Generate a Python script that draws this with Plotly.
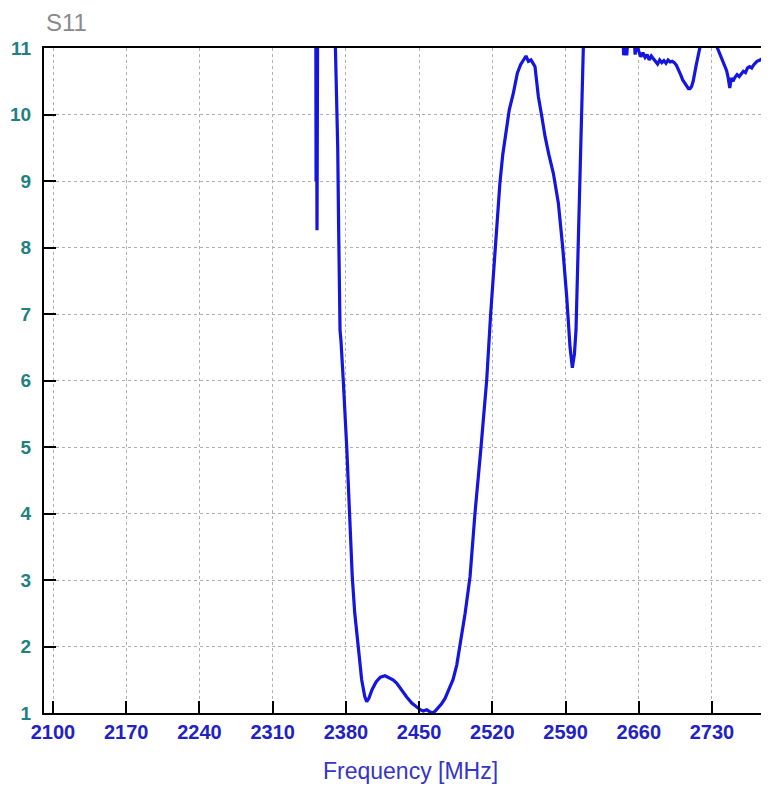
import plotly.graph_objects as go

# ---- data ----
freq_mhz = [
    2091, 2200, 2300, 2350, 2351.0, 2351.5, 2352.0, 2352.4, 2352.8, 2353.5, 2360,
    2369.2, 2370.0, 2370.6, 2372.2, 2373.1, 2373.7, 2374.4, 2375.3, 2376.2, 2377.5,
    2380.8, 2383.3, 2386.1, 2388.5, 2391.9, 2395.1, 2398, 2399.9, 2402, 2405,
    2409, 2413, 2417.4, 2421, 2425, 2428.5, 2433, 2438.1, 2443, 2447.7,
    2451, 2454, 2457.3, 2460, 2463.3, 2466, 2469, 2471.5, 2474.8, 2478.5,
    2482.4, 2486, 2489.1, 2494, 2498.7, 2503.4, 2509.2, 2514.6, 2518.4, 2522.6,
    2524.8, 2527.3, 2530, 2533.7, 2536.2, 2540.1, 2543.9, 2547, 2550, 2552.2,
    2554.5, 2557, 2560.8, 2564, 2567, 2570.4, 2574, 2578.3, 2583.1, 2587.3,
    2591.1, 2594.3, 2596.5, 2598.5, 2600, 2602.2, 2603.8, 2605.4, 2606, 2607,
    2608, 2620, 2640, 2644.5, 2645.5, 2647, 2648.5, 2649.5, 2651, 2655.5,
    2656.5, 2658, 2660, 2662, 2664, 2666, 2668, 2670, 2672, 2674,
    2676, 2678, 2680, 2682, 2684, 2686, 2688, 2690, 2692, 2694,
    2696, 2698, 2700, 2702, 2704, 2706, 2707.5, 2709, 2710.5, 2712,
    2713.5, 2715, 2717, 2719, 2722, 2726, 2730, 2734, 2736.5, 2738,
    2740, 2742, 2744, 2745.5, 2747, 2748.5, 2750, 2752, 2754, 2756,
    2758, 2760, 2762, 2764, 2766, 2768, 2770, 2773, 2776, 2779,
    2782, 2785, 2790,
]
vswr = [
    15, 15, 15, 15, 14, 9.0, 10.5, 8.26, 9.2, 14, 15,
    14, 11.0, 10.56, 9.5, 8.26, 7.36, 6.76, 6.6, 6.4, 6.0,
    5.0, 4.0, 3.05, 2.5, 2.0, 1.5, 1.25, 1.17, 1.22, 1.35,
    1.47, 1.54, 1.56, 1.53, 1.5, 1.45, 1.35, 1.24, 1.15, 1.09,
    1.05, 1.03, 1.05, 1.02, 1.0, 1.04, 1.09, 1.14, 1.22, 1.35,
    1.5, 1.72, 2.0, 2.5, 3.05, 4.0, 5.0, 6.0, 7.0, 8.0,
    8.56, 8.98, 9.4, 9.77, 10.07, 10.32, 10.62, 10.75, 10.82, 10.88,
    10.8, 10.82, 10.72, 10.27, 10.0, 9.67, 9.4, 9.12, 8.67, 8.0,
    7.26, 6.5, 6.19, 6.4, 6.76, 8.16, 8.76, 9.77, 10.37, 11.0,
    14, 15, 14, 11.2, 10.89, 11.2, 10.89, 11.1, 11.2, 11.2,
    10.9, 11.1, 10.95, 10.87, 10.93, 10.86, 10.9, 10.82, 10.88, 10.84,
    10.8, 10.76, 10.82, 10.78, 10.81, 10.77, 10.82, 10.79, 10.8, 10.78,
    10.74, 10.68, 10.6, 10.52, 10.47, 10.42, 10.39, 10.39, 10.42, 10.5,
    10.6, 10.75, 10.9, 11.05, 11.2, 11.1, 11.2, 11.05, 10.95, 10.9,
    10.8, 10.74, 10.66, 10.55, 10.4, 10.55, 10.5, 10.56, 10.6, 10.57,
    10.62, 10.65, 10.63, 10.7, 10.72, 10.7, 10.75, 10.8, 10.82, 10.85,
    10.86, 10.88, 10.9,
]
x_tick_vals = [2100, 2170, 2240, 2310, 2380, 2450, 2520, 2590, 2660, 2730]
x_tick_text = ["2100", "2170", "2240", "2310", "2380", "2450", "2520", "2590", "2660", "2730"]
y_tick_vals = [1, 2, 3, 4, 5, 6, 7, 8, 9, 10, 11]
y_tick_text = ["1", "2", "3", "4", "5", "6", "7", "8", "9", "10", "11"]

sans = "Liberation Sans, Arial, sans-serif"

fig = go.Figure()
fig.add_trace(go.Scatter(
    x=freq_mhz, y=vswr, mode="lines",
    line=dict(color="#1515e0", width=3.2),
    showlegend=False, hoverinfo="skip",
))

# the page body adds an 8px margin, so the figure is 8px smaller and margins shifted
fig.update_layout(
    width=761, height=785,
    margin=dict(l=36, r=0, t=40, b=80),
    paper_bgcolor="white", plot_bgcolor="white",
    font=dict(family=sans),
    xaxis=dict(
        range=[2091.4, 2784.5], automargin=False,
        tickmode="array", tickvals=x_tick_vals, ticktext=x_tick_text,
        tickfont=dict(family=sans, size=20, color="#2222c4", weight="bold"),
        ticks="inside", ticklen=12, tickwidth=2, tickcolor="black",
        ticklabelstandoff=0,
        showline=True, linecolor="black", linewidth=2, mirror=True,
        showgrid=True, gridcolor="#b0b0b0", griddash="dot", gridwidth=1,
        zeroline=False,
    ),
    yaxis=dict(
        range=[1, 11], automargin=False,
        tickmode="array", tickvals=y_tick_vals, ticktext=y_tick_text,
        tickfont=dict(family=sans, size=19, color="#228080", weight="bold"),
        ticks="inside", ticklen=12, tickwidth=2, tickcolor="black",
        ticklabelstandoff=7,
        showline=True, linecolor="black", linewidth=2, mirror=False,
        showgrid=True, gridcolor="#b0b0b0", griddash="dot", gridwidth=1,
        zeroline=False,
    ),
    annotations=[
        dict(text="S11", xref="paper", yref="paper", x=0.0, y=1.0376,
             xanchor="left", yanchor="middle", showarrow=False,
             font=dict(size=24, color="#8a8a8a", family=sans)),
        dict(text="Frequency [MHz]", xref="paper", yref="paper", x=0.506, y=-0.0872,
             xanchor="center", yanchor="middle", showarrow=False,
             font=dict(size=23, color="#3535c8", family=sans)),
    ],
)

fig.write_html("out.html")
